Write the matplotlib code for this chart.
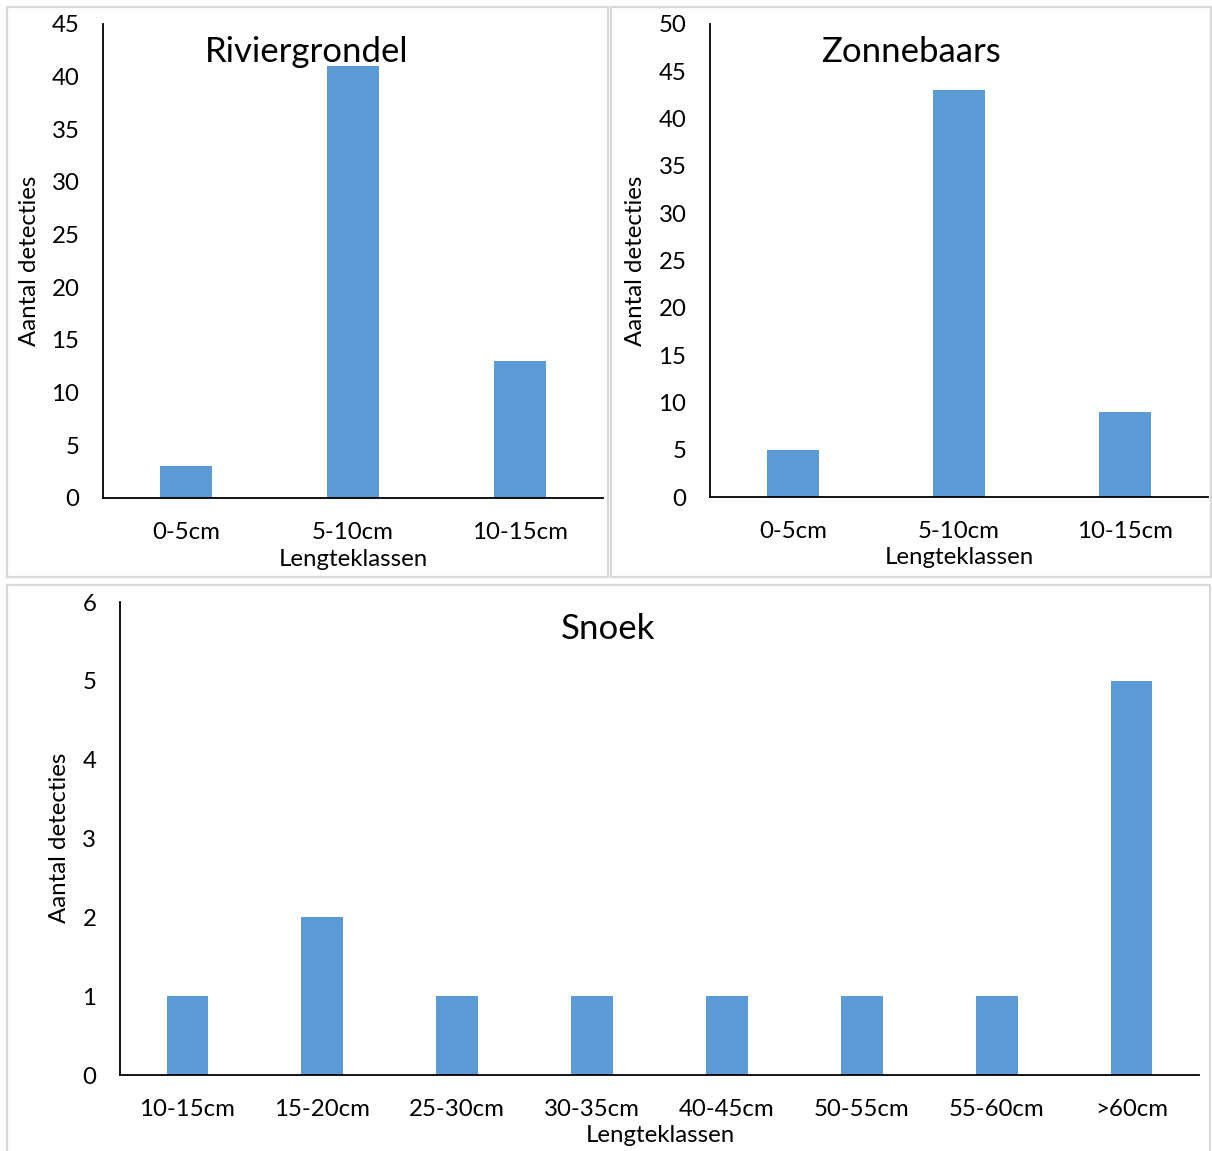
import matplotlib
matplotlib.use("Agg")
import matplotlib.pyplot as plt
from matplotlib.patches import Rectangle

plt.rcParams['font.family'] = ['Lato', 'DejaVu Sans']

W, H = 1212, 1151
DPI = 100

riv_cats = ["0-5cm", "5-10cm", "10-15cm"]
riv_vals = [3, 41, 13]
zon_cats = ["0-5cm", "5-10cm", "10-15cm"]
zon_vals = [5, 43, 9]
snoek_cats = ["10-15cm", "15-20cm", "25-30cm", "30-35cm", "40-45cm", "50-55cm", "55-60cm", ">60cm"]
snoek_vals = [1, 2, 1, 1, 1, 1, 1, 5]

BAR = "#5B9BD5"
BORDER = "#D9D9D9"
TICK_FS = 17.3
TITLE_FS = 25

fig = plt.figure(figsize=(W / DPI, H / DPI), dpi=DPI)


def fx(x):
    return x / W


def fy(y):
    return 1 - y / H


def add_ax(left, top, right, bottom):
    return fig.add_axes([fx(left), fy(bottom), (right - left) / W, (bottom - top) / H])


def box(left, top, right, bottom):
    fig.patches.append(Rectangle((fx(left), fy(bottom)), (right - left) / W, (bottom - top) / H,
                                 transform=fig.transFigure, fill=False, edgecolor=BORDER,
                                 linewidth=1.6))


def panel(ax, cats, vals, ymax, ystep, title, title_xy, xlabel_xy, ylabel_xy):
    x = list(range(len(cats)))
    ax.bar(x, vals, width=0.31, color=BAR, zorder=2)
    ax.set_xlim(-0.5, len(cats) - 0.5)
    ax.set_ylim(0, ymax)
    ax.set_yticks(list(range(0, ymax + 1, ystep)))
    ax.set_xticks(x)
    ax.set_xticklabels(cats)
    for s in ["top", "right"]:
        ax.spines[s].set_visible(False)
    for s in ["left", "bottom"]:
        ax.spines[s].set_linewidth(1.3)
        ax.spines[s].set_color("#000000")
    ax.tick_params(axis="both", length=0, labelsize=TICK_FS, colors="#000000")
    ax.tick_params(axis="y", pad=17)
    ax.tick_params(axis="x", pad=17)
    ax.patch.set_alpha(0)
    fig.text(fx(title_xy[0]), fy(title_xy[1]), title, ha="center", va="center", fontsize=TITLE_FS)
    fig.text(fx(xlabel_xy[0]), fy(xlabel_xy[1]), "Lengteklassen", ha="center", va="center",
             fontsize=TICK_FS)
    fig.text(fx(ylabel_xy[0]), fy(ylabel_xy[1]), "Aantal detecties", ha="center", va="center",
             fontsize=TICK_FS, rotation=90)


box(7, 7, 608, 577)
box(611, 7, 1211, 577)
box(7, 585, 1210, 1160)

ax1 = add_ax(103, 24, 603, 498)
panel(ax1, riv_cats, riv_vals, 45, 5, "Riviergrondel", (307, 52), (353, 559), (29, 261))

ax2 = add_ax(710, 24, 1208, 497)
panel(ax2, zon_cats, zon_vals, 50, 5, "Zonnebaars", (911, 52), (959, 558), (636, 261))

ax3 = add_ax(120, 602, 1199, 1075)
panel(ax3, snoek_cats, snoek_vals, 6, 1, "Snoek", (608, 629), (660, 1136), (60, 838))

fig.savefig("out.png", dpi=DPI)
